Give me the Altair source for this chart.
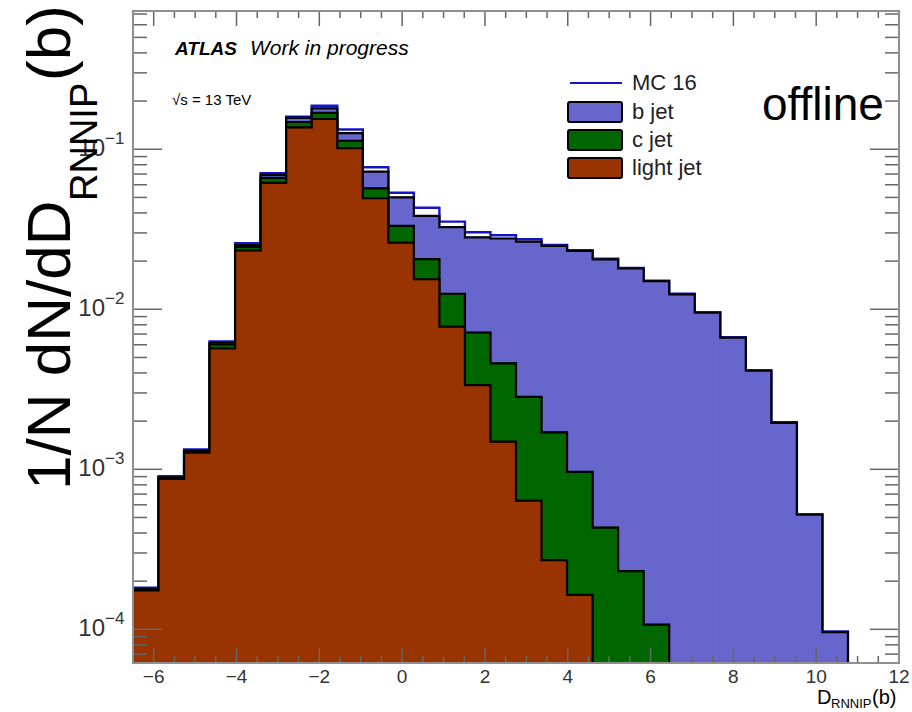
import altair as alt
import pandas as pd

# ---------------- data ----------------
X_MIN, X_MAX, N_BINS = -6.5, 12.0, 30
Y_MIN, Y_MAX = 6.16e-5, 0.731

# per-bin normalised fractions of each flavour (30 bins)
LIGHT = [1.75e-4, 8.7e-4, 1.27e-3, 5.70e-3, 0.0233, 0.0617, 0.137, 0.1545, 0.1015, 0.0494,
         0.0261, 0.0154, 0.0078, 0.00336, 0.00149, 6.37e-4, 2.71e-4, 1.64e-4, 0, 0,
         0, 0, 0, 0, 0, 0, 0, 0, 0, 0]
CJET = [3e-6, 1.5e-5, 3e-5, 3.3e-4, 1.2e-3, 4.5e-3, 0.011, 0.0145, 0.0115, 0.0076,
        0.0071, 0.0052, 0.0047, 0.0038, 0.0031, 0.0022, 0.00143, 8.0e-4, 4.32e-4, 2.31e-4,
        1.07e-4, 0, 0, 0, 0, 0, 0, 0, 0, 0]
BJET = [2e-6, 5e-6, 1e-5, 1.7e-4, 7e-4, 2.9e-3, 9e-3, 0.011, 0.013, 0.0154,
        0.0169, 0.0177, 0.0201, 0.0210, 0.0231, 0.0236, 0.0232, 0.0222, 0.0201, 0.0178,
        0.0149, 0.0124, 0.00953, 0.00665, 0.00413, 0.00195, 5.2e-4, 9.6e-5, 0, 0]
MC16 = [1.82e-4, 9.05e-4, 1.33e-3, 6.29e-3, 0.0259, 0.0708, 0.160, 0.187, 0.133, 0.0772,
        0.0535, 0.0431, 0.0353, 0.0303, 0.0290, 0.0274, 0.0252, 0.0234, 0.0207, 0.0181,
        0.0151, 0.0125, 0.0096, 0.0067, 0.00416, 0.00197, 5.25e-4, 9.7e-5, 0, 0]

X_TICKS = [-6, -4, -2, 0, 2, 4, 6, 8, 10, 12]
X_LABELS = ["\u22126", "\u22124", "\u22122", "0", "2", "4", "6", "8", "10", "12"]
Y_TICKS = [1e-4, 1e-3, 1e-2, 1e-1]
Y_EXP = ["\u22124", "\u22123", "\u22122", "\u22121"]

LEGEND_LABELS = ["MC 16", "b jet", "c jet", "light jet"]
COL_B, COL_C, COL_L, COL_MC = "#6666cc", "#006600", "#993300", "#1414c8"

# ---------------- layout ----------------
W, H = 766, 652
PAD = {"left": 133, "top": 11, "right": 13, "bottom": 49}
FONT = "Liberation Sans"
FRAME = "#8f8f8f"
TICK = "#666666"

bin_w = (X_MAX - X_MIN) / N_BINS
edges = [X_MIN + i * bin_w for i in range(N_BINS + 1)]

cum_c = [l + c for l, c in zip(LIGHT, CJET)]
cum_b = [cc + b for cc, b in zip(cum_c, BJET)]


def step_frame(values):
    """outline of a histogram as a step path (ROOT style)"""
    last = max(i for i, v in enumerate(values) if v > 0)
    xs_, ys_ = [edges[0]], [Y_MIN]
    for k in range(last + 1):
        xs_.append(edges[k])
        ys_.append(values[k])
    xs_ += [edges[last + 1], edges[last + 1]]
    ys_ += [values[last], Y_MIN]
    return pd.DataFrame({"x": xs_, "y": ys_, "i": list(range(len(xs_)))})


def bin_frame(values):
    rows = [(edges[k], edges[k + 1], v) for k, v in enumerate(values) if v > 0]
    return pd.DataFrame({"x0": [r[0] for r in rows], "x1": [r[1] for r in rows],
                         "y": [r[2] for r in rows], "base": Y_MIN})


xs = alt.Scale(domain=[X_MIN, X_MAX], nice=False, zero=False)
ys = alt.Scale(type="log", domain=[Y_MIN, Y_MAX], nice=False)


def hist_fill(values, color):
    return alt.Chart(bin_frame(values)).mark_rect(
        fill=color, stroke=color, strokeWidth=1.6, opacity=1, clip=True).encode(
        x=alt.X("x0:Q", scale=xs, axis=None),
        x2="x1:Q",
        y=alt.Y("y:Q", scale=ys, axis=None),
        y2="base:Q",
    )


def hist_line(values, color, w=2.2):
    return alt.Chart(step_frame(values)).mark_line(
        interpolate="step-after", color=color, strokeWidth=w, clip=True, strokeJoin="miter"
    ).encode(
        x=alt.X("x:Q", scale=xs, axis=None),
        y=alt.Y("y:Q", scale=ys, axis=None),
        order="i:Q",
    )


one = pd.DataFrame({"a": [0]})


def text(txt, x, y, size, **kw):
    props = dict(text=txt, font=FONT, fontSize=size, color="black", align="left",
                 baseline="alphabetic")
    props.update(kw)
    return alt.Chart(one).mark_text(**props).encode(x=alt.value(x), y=alt.value(y))


layers = []

# histograms (MC16 outline behind the stack, then b, c, light)
layers += [hist_line(MC16, COL_MC, 2.4)]
layers += [hist_fill(cum_b, COL_B), hist_line(cum_b, "black")]
layers += [hist_fill(cum_c, COL_C), hist_line(cum_c, "black")]
layers += [hist_fill(LIGHT, COL_L), hist_line(LIGHT, "black")]

# ticks (inward, ROOT style)
y_minor = [k * 10.0 ** e for e in range(-5, 0) for k in range(2, 10) if Y_MIN <= k * 10.0 ** e <= Y_MAX]
x_minor = [t / 2 for t in range(-13, 25) if t % 4 != 0]
ymaj = pd.DataFrame({"v": Y_TICKS, "exp": Y_EXP})
ymin_df = pd.DataFrame({"v": y_minor})
xmaj = pd.DataFrame({"v": X_TICKS, "lab": X_LABELS})
xmin_df = pd.DataFrame({"v": x_minor})


def yrule(df, x0, x1):
    return alt.Chart(df).mark_rule(color=TICK, strokeWidth=1.5).encode(
        y=alt.Y("v:Q", scale=ys, axis=None), x=alt.value(x0), x2=alt.value(x1))


def xrule(df, y0, y1):
    return alt.Chart(df).mark_rule(color=TICK, strokeWidth=1.5).encode(
        x=alt.X("v:Q", scale=xs, axis=None), y=alt.value(y0), y2=alt.value(y1))


layers += [yrule(ymaj, 0, 29), yrule(ymin_df, 0, 14), yrule(ymaj, W - 29, W), yrule(ymin_df, W - 14, W)]
layers += [xrule(xmaj, H, H - 15), xrule(xmin_df, H, H - 7), xrule(xmaj, 0, 15), xrule(xmin_df, 0, 7)]

# frame
layers.append(alt.Chart(one).mark_rect(fill=None, stroke=FRAME, strokeWidth=2).encode(
    x=alt.value(0), x2=alt.value(W), y=alt.value(0), y2=alt.value(H)))

# tick labels
layers.append(alt.Chart(xmaj).mark_text(font=FONT, fontSize=19, color="#333333", align="center",
                                        baseline="alphabetic").encode(
    x=alt.X("v:Q", scale=xs, axis=None), y=alt.value(672), text="lab:N"))
layers.append(alt.Chart(ymaj).mark_text(font=FONT, fontSize=24, color="#333333", align="right",
                                        baseline="middle", text="10").encode(
    y=alt.Y("v:Q", scale=ys, axis=None), x=alt.value(-28)))
layers.append(alt.Chart(ymaj).mark_text(font=FONT, fontSize=17, color="#333333", align="left",
                                        baseline="middle", dy=-10).encode(
    y=alt.Y("v:Q", scale=ys, axis=None), x=alt.value(-28), text="exp:N"))

# axis titles
layers.append(text("1/N dN/dD", -63, 479, 62, angle=270))
layers.append(text("RNNIP", -36, 190, 38, angle=270))
layers.append(text("(b)", -63, 70, 62, angle=270))
layers.append(text("D", 684, 693, 20))
layers.append(text("RNNIP", 698, 697, 13))
layers.append(text("(b)", 739, 693, 20))

# annotations
layers.append(text("ATLAS", 42, 44, 19, fontWeight="bold", fontStyle="italic"))
layers.append(text("Work in progress", 117, 44, 21, fontStyle="italic"))
layers.append(text("\u221as = 13 TeV", 39, 89, 15, baseline="middle"))
layers.append(text("offline", 629, 109, 46))

# legend
leg_x0, leg_x1 = 435, 489
layers.append(alt.Chart(one).mark_rule(color=COL_MC, strokeWidth=2.2).encode(
    x=alt.value(leg_x0 + 2), x2=alt.value(leg_x1), y=alt.value(72)))
for (y0, y1, col) in [(91, 111, COL_B), (119, 139, COL_C), (147, 167, COL_L)]:
    layers.append(alt.Chart(one).mark_rect(fill=col, stroke="black", strokeWidth=2, cornerRadius=2).encode(
        x=alt.value(leg_x0), x2=alt.value(leg_x1), y=alt.value(y0), y2=alt.value(y1)))
for lab, yc in zip(LEGEND_LABELS, [72, 101, 129, 157]):
    layers.append(text(lab, 499, yc, 22, baseline="middle", color="#222222"))

chart = alt.layer(*layers).properties(
    width=W, height=H, padding=PAD, autosize="none", background="white"
).configure_view(strokeWidth=0)

chart.save("out.html", embed_options={"renderer": "svg", "actions": False})
